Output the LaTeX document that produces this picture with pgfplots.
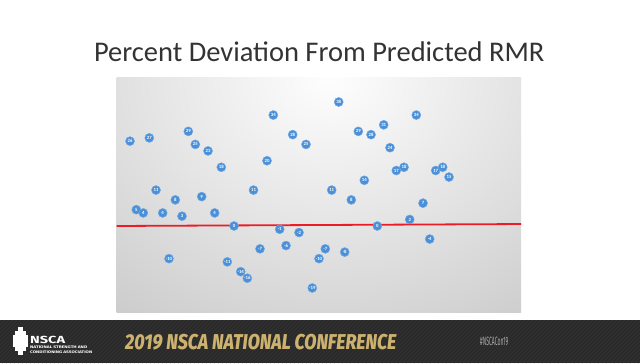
\documentclass[border=0pt]{standalone}
\usepackage{pgfplots}
\pgfplotsset{compat=1.18}
\usepackage{fontspec}
\usepackage{graphicx}
\setmainfont{Carlito}
\newfontfamily\firafont{Fira Sans}
\IfFontExistsTF{Fira Sans ExtraBold Italic}
  {\newfontfamily\banfont{Fira Sans ExtraBold Italic}}
  {\newfontfamily\banfont{Fira Sans Bold Italic}}
\definecolor{ptblue}{HTML}{4A8FD7}
\definecolor{ptedge}{HTML}{6FA8E3}
\definecolor{linered}{HTML}{EC1C24}
\definecolor{titlegray}{HTML}{333333}
\definecolor{bannerbg}{HTML}{2A2A2A}
\definecolor{bannerstripe}{HTML}{313131}
\definecolor{gold}{HTML}{CDB16E}
\definecolor{bggray}{gray}{0.75}
\definecolor{bgwhite}{gray}{0.995}
\definecolor{hashgray}{HTML}{AAAAAA}

\begin{document}
\begin{tikzpicture}[x=1bp,y=1bp]
\useasboundingbox (0,0) rectangle (640,363);
\fill[white] (0,0) rectangle (640,363);
% plot area background
\begin{scope}
\clip (116.7,51) rectangle (521,285.7);
\fill[bggray] (116.7,51) rectangle (521,285.7);
\shade[inner color=bgwhite, outer color=bggray] (330,285.7) ellipse [x radius=450, y radius=370];
\end{scope}
% title
\node[anchor=base, inner sep=0, text=titlegray, font=\fontsize{28.6}{30}\selectfont] at (319.2,302) {Percent Deviation From Predicted RMR};

\begin{axis}[
  at={(116.7bp,51bp)}, anchor=south west,
  width=404.3bp, height=234.7bp, scale only axis,
  xmin=116.7, xmax=521, ymin=-26.36, ymax=45.57,
  axis line style={draw=none}, ticks=none, clip=false]
\addplot[linered, line width=1.8bp] coordinates {(116.7,0) (521,0.6)};
\addplot[only marks, mark=*, mark size=4.5bp,
  mark options={fill=ptblue, draw=ptedge, line width=0.5bp},
  point meta=explicit symbolic, nodes near coords, nodes near coords align=center,
  every node near coord/.append style={font=\fontsize{4.8}{4.8}\selectfont\bfseries, text=white, inner sep=0pt}]
  table[meta=lab] {
x y lab
130 26 26
149.3 27 27
188.3 29 29
195.3 25 25
208 23 23
221.3 18 18
273.3 34 34
292.7 28 28
306 25 25
267 20 20
338.7 38 38
358.3 29 29
371 28 28
383.7 31 31
390 24 24
416.3 34 34
396.3 17 17
404 18 18
435.7 17 17
442.7 18 18
449 15 15
364.3 14 14
331.7 11 11
351.3 8 8
423 7 7
409.7 2 2
377.3 0 0
429.7 -4 -4
344.7 -8 -8
325.3 -7 -7
319 -10 -10
312.3 -19 -19
299 -2 -2
279.7 -1 -1
286 -6 -6
260 -7 -7
253.5 11 11
234 0 0
214.7 4 4
201.7 9 9
175.3 8 8
182 3 3
162.7 4 4
156 11 11
136.3 5 5
143.3 4 4
169 -10 -10
227.3 -11 -11
240.7 -14 -14
247.3 -16 -16
};
\end{axis}

% banner
\fill[bannerbg] (0,0) rectangle (640,43);
\begin{scope}
\clip (0,0) rectangle (640,43);
\foreach \i in {-50,-46,...,640} \draw[bannerstripe, line width=1bp] (\i,0) -- (\i+43,43);
\end{scope}
\node[anchor=base west, inner sep=0, text=gold] at (125,13.7) {\resizebox{271bp}{15.3bp}{\banfont 2019 NSCA NATIONAL CONFERENCE}};
\node[anchor=base west, inner sep=0, text=hashgray] at (480,18) {\resizebox{28bp}{8.5bp}{\firafont \#NSCACon19}};
% logo
\fill[white] (18,36) rectangle (23,32);
\fill[white] (15,32) rectangle (26,28);
\fill[white] (13,28) rectangle (28,16);
\fill[white] (15,16) rectangle (26,12);
\fill[white] (18,12) rectangle (23,8);
\node[anchor=base west, inner sep=0, text=white] at (30,19.7) {\resizebox{35bp}{7.3bp}{\firafont\bfseries NSCA}};
\node[anchor=base west, inner sep=0, text=white] at (30,15) {\resizebox{57bp}{2.6bp}{\firafont\bfseries NATIONAL STRENGTH AND}};
\node[anchor=base west, inner sep=0, text=white] at (30,10) {\resizebox{62bp}{2.6bp}{\firafont\bfseries CONDITIONING ASSOCIATION}};
\end{tikzpicture}
\end{document}
